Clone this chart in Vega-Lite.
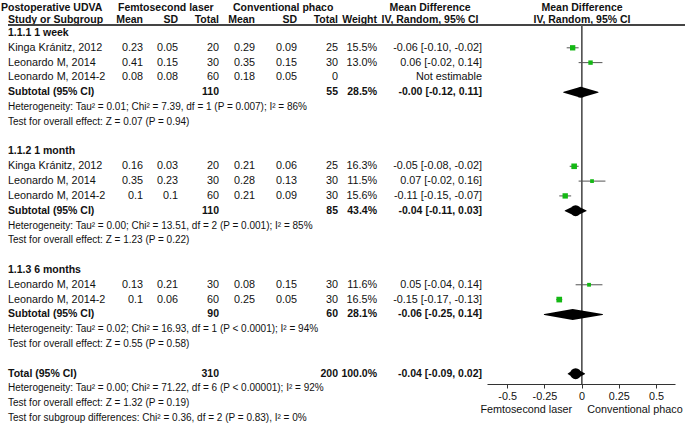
{
  "$schema": "https://vega.github.io/schema/vega-lite/v6.json",
  "width": 685,
  "height": 384,
  "autosize": "none",
  "padding": {"left": 0, "top": 0, "right": 0, "bottom": 41},
  "background": "white",
  "config": {
    "view": {"stroke": null},
    "text": {"font": "Liberation Sans", "baseline": "middle", "color": "#111"}
  },
  "datasets": {
    "cells": [
      {"r": 0.3, "c": 0, "t": "Postoperative UDVA", "k": "hdr"},
      {"r": 0.3, "c": 2, "t": "Femtosecond laser", "k": "hdr"},
      {"r": 0.3, "c": 6, "t": "Conventional phaco", "k": "hdr"},
      {"r": 0.3, "c": 11, "t": "Mean Difference", "k": "hdr"},
      {"r": 0.3, "c": 13, "t": "Mean Difference", "k": "hdr"},
      {"r": 1.1, "c": 1, "t": "Study or Subgroup", "k": "hdr"},
      {"r": 1.1, "c": 3, "t": "Mean", "k": "hdr"},
      {"r": 1.1, "c": 4, "t": "SD", "k": "hdr"},
      {"r": 1.1, "c": 5, "t": "Total", "k": "hdr"},
      {"r": 1.1, "c": 7, "t": "Mean", "k": "hdr"},
      {"r": 1.1, "c": 8, "t": "SD", "k": "hdr"},
      {"r": 1.1, "c": 9, "t": "Total", "k": "hdr"},
      {"r": 1.1, "c": 10, "t": "Weight", "k": "hdr"},
      {"r": 1.1, "c": 11, "t": "IV, Random, 95% CI", "k": "hdr"},
      {"r": 1.1, "c": 13, "t": "IV, Random, 95% CI", "k": "hdr"},

      {"r": 2, "c": 1, "t": "1.1.1 1 week", "k": "grp"},
      {"r": 3, "c": 1, "t": "Kinga Kránitz, 2012", "k": "st"},
      {"r": 3, "c": 3, "t": "0.23", "k": "st"},
      {"r": 3, "c": 4, "t": "0.05", "k": "st"},
      {"r": 3, "c": 5, "t": "20", "k": "st"},
      {"r": 3, "c": 7, "t": "0.29", "k": "st"},
      {"r": 3, "c": 8, "t": "0.09", "k": "st"},
      {"r": 3, "c": 9, "t": "25", "k": "st"},
      {"r": 3, "c": 10, "t": "15.5%", "k": "st"},
      {"r": 3, "c": 12, "t": "-0.06 [-0.10, -0.02]", "k": "st"},
      {"r": 4, "c": 1, "t": "Leonardo M, 2014", "k": "st"},
      {"r": 4, "c": 3, "t": "0.41", "k": "st"},
      {"r": 4, "c": 4, "t": "0.15", "k": "st"},
      {"r": 4, "c": 5, "t": "30", "k": "st"},
      {"r": 4, "c": 7, "t": "0.35", "k": "st"},
      {"r": 4, "c": 8, "t": "0.15", "k": "st"},
      {"r": 4, "c": 9, "t": "30", "k": "st"},
      {"r": 4, "c": 10, "t": "13.0%", "k": "st"},
      {"r": 4, "c": 12, "t": "0.06 [-0.02, 0.14]", "k": "st"},
      {"r": 5, "c": 1, "t": "Leonardo M, 2014-2", "k": "st"},
      {"r": 5, "c": 3, "t": "0.08", "k": "st"},
      {"r": 5, "c": 4, "t": "0.08", "k": "st"},
      {"r": 5, "c": 5, "t": "60", "k": "st"},
      {"r": 5, "c": 7, "t": "0.18", "k": "st"},
      {"r": 5, "c": 8, "t": "0.05", "k": "st"},
      {"r": 5, "c": 9, "t": "0", "k": "st"},
      {"r": 5, "c": 12, "t": "Not estimable", "k": "st"},
      {"r": 6, "c": 1, "t": "Subtotal (95% CI)", "k": "sub"},
      {"r": 6, "c": 5, "t": "110", "k": "sub"},
      {"r": 6, "c": 9, "t": "55", "k": "sub"},
      {"r": 6, "c": 10, "t": "28.5%", "k": "sub"},
      {"r": 6, "c": 12, "t": "-0.00 [-0.12, 0.11]", "k": "sub"},
      {"r": 7, "c": 1, "t": "Heterogeneity: Tau² = 0.01; Chi² = 7.39, df = 1 (P = 0.007); I² = 86%", "k": "note"},
      {"r": 8, "c": 1, "t": "Test for overall effect: Z = 0.07 (P = 0.94)", "k": "note"},

      {"r": 10, "c": 1, "t": "1.1.2 1 month", "k": "grp"},
      {"r": 11, "c": 1, "t": "Kinga Kránitz, 2012", "k": "st"},
      {"r": 11, "c": 3, "t": "0.16", "k": "st"},
      {"r": 11, "c": 4, "t": "0.03", "k": "st"},
      {"r": 11, "c": 5, "t": "20", "k": "st"},
      {"r": 11, "c": 7, "t": "0.21", "k": "st"},
      {"r": 11, "c": 8, "t": "0.06", "k": "st"},
      {"r": 11, "c": 9, "t": "25", "k": "st"},
      {"r": 11, "c": 10, "t": "16.3%", "k": "st"},
      {"r": 11, "c": 12, "t": "-0.05 [-0.08, -0.02]", "k": "st"},
      {"r": 12, "c": 1, "t": "Leonardo M, 2014", "k": "st"},
      {"r": 12, "c": 3, "t": "0.35", "k": "st"},
      {"r": 12, "c": 4, "t": "0.23", "k": "st"},
      {"r": 12, "c": 5, "t": "30", "k": "st"},
      {"r": 12, "c": 7, "t": "0.28", "k": "st"},
      {"r": 12, "c": 8, "t": "0.13", "k": "st"},
      {"r": 12, "c": 9, "t": "30", "k": "st"},
      {"r": 12, "c": 10, "t": "11.5%", "k": "st"},
      {"r": 12, "c": 12, "t": "0.07 [-0.02, 0.16]", "k": "st"},
      {"r": 13, "c": 1, "t": "Leonardo M, 2014-2", "k": "st"},
      {"r": 13, "c": 3, "t": "0.1", "k": "st"},
      {"r": 13, "c": 4, "t": "0.1", "k": "st"},
      {"r": 13, "c": 5, "t": "60", "k": "st"},
      {"r": 13, "c": 7, "t": "0.21", "k": "st"},
      {"r": 13, "c": 8, "t": "0.09", "k": "st"},
      {"r": 13, "c": 9, "t": "30", "k": "st"},
      {"r": 13, "c": 10, "t": "15.6%", "k": "st"},
      {"r": 13, "c": 12, "t": "-0.11 [-0.15, -0.07]", "k": "st"},
      {"r": 14, "c": 1, "t": "Subtotal (95% CI)", "k": "sub"},
      {"r": 14, "c": 5, "t": "110", "k": "sub"},
      {"r": 14, "c": 9, "t": "85", "k": "sub"},
      {"r": 14, "c": 10, "t": "43.4%", "k": "sub"},
      {"r": 14, "c": 12, "t": "-0.04 [-0.11, 0.03]", "k": "sub"},
      {"r": 15, "c": 1, "t": "Heterogeneity: Tau² = 0.00; Chi² = 13.51, df = 2 (P = 0.001); I² = 85%", "k": "note"},
      {"r": 16, "c": 1, "t": "Test for overall effect: Z = 1.23 (P = 0.22)", "k": "note"},

      {"r": 18, "c": 1, "t": "1.1.3 6 months", "k": "grp"},
      {"r": 19, "c": 1, "t": "Leonardo M, 2014", "k": "st"},
      {"r": 19, "c": 3, "t": "0.13", "k": "st"},
      {"r": 19, "c": 4, "t": "0.21", "k": "st"},
      {"r": 19, "c": 5, "t": "30", "k": "st"},
      {"r": 19, "c": 7, "t": "0.08", "k": "st"},
      {"r": 19, "c": 8, "t": "0.15", "k": "st"},
      {"r": 19, "c": 9, "t": "30", "k": "st"},
      {"r": 19, "c": 10, "t": "11.6%", "k": "st"},
      {"r": 19, "c": 12, "t": "0.05 [-0.04, 0.14]", "k": "st"},
      {"r": 20, "c": 1, "t": "Leonardo M, 2014-2", "k": "st"},
      {"r": 20, "c": 3, "t": "0.1", "k": "st"},
      {"r": 20, "c": 4, "t": "0.06", "k": "st"},
      {"r": 20, "c": 5, "t": "60", "k": "st"},
      {"r": 20, "c": 7, "t": "0.25", "k": "st"},
      {"r": 20, "c": 8, "t": "0.05", "k": "st"},
      {"r": 20, "c": 9, "t": "30", "k": "st"},
      {"r": 20, "c": 10, "t": "16.5%", "k": "st"},
      {"r": 20, "c": 12, "t": "-0.15 [-0.17, -0.13]", "k": "st"},
      {"r": 21, "c": 1, "t": "Subtotal (95% CI)", "k": "sub"},
      {"r": 21, "c": 5, "t": "90", "k": "sub"},
      {"r": 21, "c": 9, "t": "60", "k": "sub"},
      {"r": 21, "c": 10, "t": "28.1%", "k": "sub"},
      {"r": 21, "c": 12, "t": "-0.06 [-0.25, 0.14]", "k": "sub"},
      {"r": 22, "c": 1, "t": "Heterogeneity: Tau² = 0.02; Chi² = 16.93, df = 1 (P < 0.0001); I² = 94%", "k": "note"},
      {"r": 23, "c": 1, "t": "Test for overall effect: Z = 0.55 (P = 0.58)", "k": "note"},

      {"r": 25, "c": 1, "t": "Total (95% CI)", "k": "sub"},
      {"r": 25, "c": 5, "t": "310", "k": "sub"},
      {"r": 25, "c": 9, "t": "200", "k": "sub"},
      {"r": 25, "c": 10, "t": "100.0%", "k": "sub"},
      {"r": 25, "c": 12, "t": "-0.04 [-0.09, 0.02]", "k": "sub"},
      {"r": 26, "c": 1, "t": "Heterogeneity: Tau² = 0.00; Chi² = 71.22, df = 6 (P < 0.00001); I² = 92%", "k": "note"},
      {"r": 27, "c": 1, "t": "Test for overall effect: Z = 1.32 (P = 0.19)", "k": "note"},
      {"r": 28, "c": 1, "t": "Test for subgroup differences: Chi² = 0.36, df = 2 (P = 0.83), I² = 0%", "k": "note"}
    ],
    "fp": [
      {"r": 3, "k": "st", "md": -0.06, "lo": -0.10, "hi": -0.02, "w": 15.5},
      {"r": 4, "k": "st", "md": 0.06, "lo": -0.02, "hi": 0.14, "w": 13.0},
      {"r": 6, "k": "sub", "md": -0.005, "lo": -0.12, "hi": 0.11},
      {"r": 11, "k": "st", "md": -0.05, "lo": -0.08, "hi": -0.02, "w": 16.3},
      {"r": 12, "k": "st", "md": 0.07, "lo": -0.02, "hi": 0.16, "w": 11.5},
      {"r": 13, "k": "st", "md": -0.11, "lo": -0.15, "hi": -0.07, "w": 15.6},
      {"r": 14, "k": "sub", "md": -0.04, "lo": -0.11, "hi": 0.03},
      {"r": 19, "k": "st", "md": 0.05, "lo": -0.04, "hi": 0.14, "w": 11.6},
      {"r": 20, "k": "st", "md": -0.15, "lo": -0.17, "hi": -0.13, "w": 16.5},
      {"r": 21, "k": "sub", "md": -0.06, "lo": -0.25, "hi": 0.14},
      {"r": 25, "k": "sub", "md": -0.04, "lo": -0.09, "hi": 0.02}
    ]
  },
  "layer": [
    {
      "data": {"name": "cells"},
      "layer": [
        {
          "transform": [{"filter": {"and": [{"field": "c", "oneOf": [0, 1, 2, 6]}, {"field": "k", "equal": "st"}]}}],
          "mark": {"type": "text", "align": "left", "fontSize": 10.8},
          "encoding": {
            "x": {"field": "c", "type": "quantitative", "axis": null, "scale": {"domain": [0,1,2,3,4,5,6,7,8,9,10,11,12,13,14], "range": [1,8,118,143,178,219,233,255,297,338,377,430,482,582,685], "nice": false, "zero": false}},
            "y": {"field": "r", "type": "quantitative", "axis": null, "scale": {"domain": [-0.228, 25.70], "reverse": true, "nice": false, "zero": false}},
            "text": {"field": "t"}
          }
        },
        {
          "transform": [{"filter": {"field": "k", "equal": "note"}}],
          "mark": {"type": "text", "align": "left", "fontSize": 10},
          "encoding": {
            "x": {"field": "c", "type": "quantitative", "axis": null, "scale": {"domain": [0,1,2,3,4,5,6,7,8,9,10,11,12,13,14], "range": [1,8,118,143,178,219,233,255,297,338,377,430,482,582,685], "nice": false, "zero": false}},
            "y": {"field": "r", "type": "quantitative", "axis": null, "scale": {"domain": [-0.228, 25.70], "reverse": true, "nice": false, "zero": false}},
            "text": {"field": "t"}
          }
        },
        {
          "transform": [{"filter": {"and": [{"field": "c", "oneOf": [0, 1, 2, 6]}, {"field": "k", "oneOf": ["hdr", "grp", "sub"]}]}}],
          "mark": {"type": "text", "align": "left", "fontSize": 10.5, "fontWeight": "bold"},
          "encoding": {
            "x": {"field": "c", "type": "quantitative", "axis": null, "scale": {"domain": [0,1,2,3,4,5,6,7,8,9,10,11,12,13,14], "range": [1,8,118,143,178,219,233,255,297,338,377,430,482,582,685], "nice": false, "zero": false}},
            "y": {"field": "r", "type": "quantitative", "axis": null, "scale": {"domain": [-0.228, 25.70], "reverse": true, "nice": false, "zero": false}},
            "text": {"field": "t"}
          }
        },
        {
          "transform": [{"filter": {"and": [{"field": "c", "oneOf": [3, 4, 5, 7, 8, 9, 10, 12]}, {"field": "k", "equal": "st"}]}}],
          "mark": {"type": "text", "align": "right", "fontSize": 10.8},
          "encoding": {
            "x": {"field": "c", "type": "quantitative", "axis": null, "scale": {"domain": [0,1,2,3,4,5,6,7,8,9,10,11,12,13,14], "range": [1,8,118,143,178,219,233,255,297,338,377,430,482,582,685], "nice": false, "zero": false}},
            "y": {"field": "r", "type": "quantitative", "axis": null, "scale": {"domain": [-0.228, 25.70], "reverse": true, "nice": false, "zero": false}},
            "text": {"field": "t"}
          }
        },
        {
          "transform": [{"filter": {"and": [{"field": "c", "oneOf": [3, 4, 5, 7, 8, 9, 10, 12]}, {"field": "k", "oneOf": ["hdr", "grp", "sub"]}]}}],
          "mark": {"type": "text", "align": "right", "fontSize": 10.5, "fontWeight": "bold"},
          "encoding": {
            "x": {"field": "c", "type": "quantitative", "axis": null, "scale": {"domain": [0,1,2,3,4,5,6,7,8,9,10,11,12,13,14], "range": [1,8,118,143,178,219,233,255,297,338,377,430,482,582,685], "nice": false, "zero": false}},
            "y": {"field": "r", "type": "quantitative", "axis": null, "scale": {"domain": [-0.228, 25.70], "reverse": true, "nice": false, "zero": false}},
            "text": {"field": "t"}
          }
        },
        {
          "transform": [{"filter": {"field": "c", "oneOf": [11, 13]}}],
          "mark": {"type": "text", "align": "center", "fontSize": 10.5, "fontWeight": "bold"},
          "encoding": {
            "x": {"field": "c", "type": "quantitative", "axis": null, "scale": {"domain": [0,1,2,3,4,5,6,7,8,9,10,11,12,13,14], "range": [1,8,118,143,178,219,233,255,297,338,377,430,482,582,685], "nice": false, "zero": false}},
            "y": {"field": "r", "type": "quantitative", "axis": null, "scale": {"domain": [-0.228, 25.70], "reverse": true, "nice": false, "zero": false}},
            "text": {"field": "t"}
          }
        },
        {
          "mark": {"type": "rule", "color": "#444", "strokeWidth": 1},
          "encoding": {
            "x": {"datum": 1, "type": "quantitative", "axis": null, "scale": {"domain": [0,1,2,3,4,5,6,7,8,9,10,11,12,13,14], "range": [1,8,118,143,178,219,233,255,297,338,377,430,482,582,685], "nice": false, "zero": false}},
            "x2": {"datum": 14},
            "y": {"datum": 1.46, "type": "quantitative", "axis": null, "scale": {"domain": [-0.228, 25.70], "reverse": true, "nice": false, "zero": false}}
          }
        }
      ]
    },
    {
      "data": {"name": "fp"},
      "layer": [
        {
          "mark": {"type": "rule", "color": "#555", "strokeWidth": 1},
          "encoding": {
            "x": {"datum": 0, "type": "quantitative", "scale": {"domain": [-0.635, 0.627], "range": [487, 675], "nice": false, "zero": false}, "axis": {"values": [-0.5, -0.25, 0, 0.25, 0.5], "labelExpr": "datum.value < 0 ? '-' + format(-datum.value, '~g') : format(datum.value, '~g')", "title": "Femtosecond laser\u00a0\u00a0\u00a0\u00a0\u00a0Conventional phaco", "grid": false, "domainColor": "#333", "tickColor": "#333", "tickSize": 4, "labelFont": "Liberation Sans", "labelFontSize": 10.8, "labelColor": "#111", "labelPadding": 2, "labelFlush": false, "labelOverlap": false, "titleFont": "Liberation Sans", "titleFontSize": 10.8, "titleFontWeight": "normal", "titleColor": "#111", "titlePadding": 3}},
            "y": {"datum": 1.46, "type": "quantitative", "axis": null, "scale": {"domain": [-0.228, 25.70], "reverse": true, "nice": false, "zero": false}},
            "y2": {"datum": 25.70}
          }
        },
        {
          "transform": [{"filter": "datum.k === 'st'"}],
          "mark": {"type": "rule", "color": "#555", "strokeWidth": 1},
          "encoding": {
            "x": {"field": "lo", "type": "quantitative", "scale": {"domain": [-0.635, 0.627], "range": [487, 675], "nice": false, "zero": false}, "axis": {"values": [-0.5, -0.25, 0, 0.25, 0.5], "labelExpr": "datum.value < 0 ? '-' + format(-datum.value, '~g') : format(datum.value, '~g')", "title": "Femtosecond laser\u00a0\u00a0\u00a0\u00a0\u00a0Conventional phaco", "grid": false, "domainColor": "#333", "tickColor": "#333", "tickSize": 4, "labelFont": "Liberation Sans", "labelFontSize": 10.8, "labelColor": "#111", "labelPadding": 2, "labelFlush": false, "labelOverlap": false, "titleFont": "Liberation Sans", "titleFontSize": 10.8, "titleFontWeight": "normal", "titleColor": "#111", "titlePadding": 3}},
            "x2": {"field": "hi"},
            "y": {"field": "r", "type": "quantitative", "axis": null, "scale": {"domain": [-0.228, 25.70], "reverse": true, "nice": false, "zero": false}}
          }
        },
        {
          "transform": [{"filter": "datum.k === 'st'"}],
          "mark": {"type": "square", "filled": true, "color": "#14b814", "opacity": 1},
          "encoding": {
            "x": {"field": "md", "type": "quantitative", "scale": {"domain": [-0.635, 0.627], "range": [487, 675], "nice": false, "zero": false}, "axis": {"values": [-0.5, -0.25, 0, 0.25, 0.5], "labelExpr": "datum.value < 0 ? '-' + format(-datum.value, '~g') : format(datum.value, '~g')", "title": "Femtosecond laser\u00a0\u00a0\u00a0\u00a0\u00a0Conventional phaco", "grid": false, "domainColor": "#333", "tickColor": "#333", "tickSize": 4, "labelFont": "Liberation Sans", "labelFontSize": 10.8, "labelColor": "#111", "labelPadding": 2, "labelFlush": false, "labelOverlap": false, "titleFont": "Liberation Sans", "titleFontSize": 10.8, "titleFontWeight": "normal", "titleColor": "#111", "titlePadding": 3}},
            "y": {"field": "r", "type": "quantitative", "axis": null, "scale": {"domain": [-0.228, 25.70], "reverse": true, "nice": false, "zero": false}},
            "size": {"field": "w", "type": "quantitative", "legend": null, "scale": {"domain": [11.5, 16.5], "range": [14, 32], "zero": false}}
          }
        },
        {
          "transform": [{"filter": "datum.k === 'sub'"}, {"fold": ["lo", "md", "hi"], "as": ["v", "xv"]}],
          "mark": {"type": "trail", "color": "#000"},
          "encoding": {
            "x": {"field": "xv", "type": "quantitative", "scale": {"domain": [-0.635, 0.627], "range": [487, 675], "nice": false, "zero": false}, "axis": {"values": [-0.5, -0.25, 0, 0.25, 0.5], "labelExpr": "datum.value < 0 ? '-' + format(-datum.value, '~g') : format(datum.value, '~g')", "title": "Femtosecond laser\u00a0\u00a0\u00a0\u00a0\u00a0Conventional phaco", "grid": false, "domainColor": "#333", "tickColor": "#333", "tickSize": 4, "labelFont": "Liberation Sans", "labelFontSize": 10.8, "labelColor": "#111", "labelPadding": 2, "labelFlush": false, "labelOverlap": false, "titleFont": "Liberation Sans", "titleFontSize": 10.8, "titleFontWeight": "normal", "titleColor": "#111", "titlePadding": 3}},
            "y": {"field": "r", "type": "quantitative", "axis": null, "scale": {"domain": [-0.228, 25.70], "reverse": true, "nice": false, "zero": false}},
            "detail": {"field": "r", "type": "nominal"},
            "order": {"field": "xv", "type": "quantitative"},
            "size": {"condition": {"test": "datum.v === 'md'", "value": 11}, "value": 0}
          }
        }
      ]
    }
  ],
  "resolve": {"scale": {"x": "independent"}, "axis": {"x": "independent"}}
}
